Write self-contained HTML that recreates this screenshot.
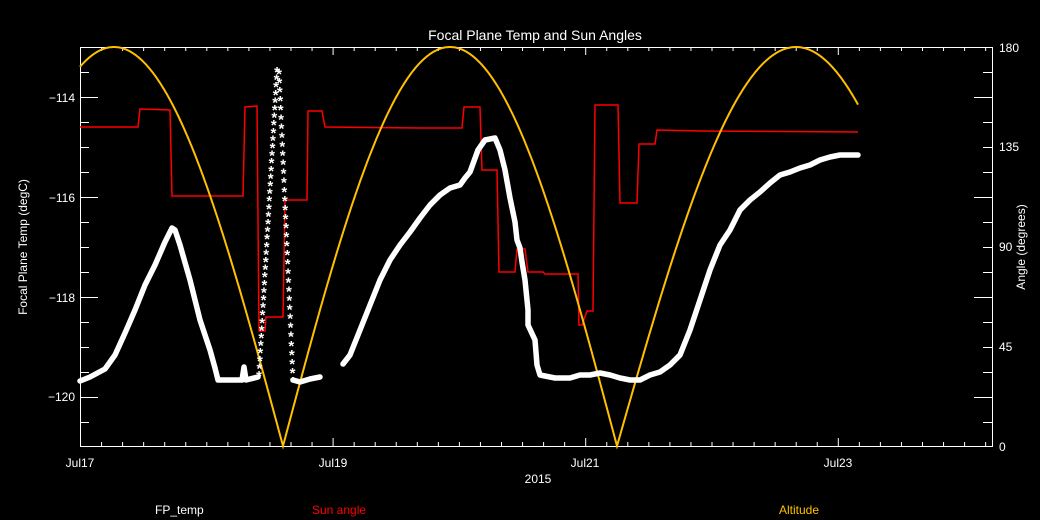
<!DOCTYPE html>
<html><head><meta charset="utf-8"><style>
html,body{margin:0;padding:0;background:#000;}
svg{display:block;font-family:"Liberation Sans",sans-serif;}
</style></head><body>
<svg width="1040" height="520" viewBox="0 0 1040 520" xmlns="http://www.w3.org/2000/svg">
<rect width="1040" height="520" fill="#000"/>
<g id="ax" stroke="#fff" stroke-width="1" fill="none">
<rect x="80.5" y="47.5" width="912" height="399"/>
</g>
<g id="ticks" stroke="#fff" stroke-width="1"></g>
<g fill="#fff" font-size="12">
<text x="535" y="40" text-anchor="middle" font-size="14">Focal Plane Temp and Sun Angles</text>
<text x="75" y="102" text-anchor="end">−114</text>
<text x="75" y="202" text-anchor="end">−116</text>
<text x="75" y="302" text-anchor="end">−118</text>
<text x="75" y="401" text-anchor="end">−120</text>
<text x="999" y="52">180</text>
<text x="999" y="151">135</text>
<text x="999" y="251">90</text>
<text x="999" y="351">45</text>
<text x="999" y="451">0</text>
<text x="80" y="467" text-anchor="middle">Jul17</text>
<text x="333" y="467" text-anchor="middle">Jul19</text>
<text x="585" y="467" text-anchor="middle">Jul21</text>
<text x="838" y="467" text-anchor="middle">Jul23</text>
<text x="538" y="483" text-anchor="middle">2015</text>
<text transform="translate(27,247) rotate(-90)" text-anchor="middle">Focal Plane Temp (degC)</text>
<text transform="translate(1025,247) rotate(-90)" text-anchor="middle">Angle (degrees)</text>
<text x="155" y="514">FP_temp</text>
<text x="312" y="514" fill="#ff0000">Sun angle</text>
<text x="779" y="514" fill="#ffc000">Altitude</text>
</g>
<path fill="none" stroke="#ff0000" stroke-width="1.5" d="M80,127 L138,127 L140,109 L170,110 L172,196 L243,196 L245,107 L257,106 L259,331 L265,331 L266,317 L283,317 L285,200 L307,200 L308,111 L322,111 L325,127 L418,128 L462,128 L464,107 L480,107 L482,170 L497,170 L499,272 L515,272 L517,249 L525,249 L528,272 L543,272 L545,274 L578,274 L579,325 L582,325 L587,311 L593,311 L595,105 L618,105 L620,203 L637,203 L639,144 L655,144 L657,130 L700,131 L858,132"/>
<path id="alt" fill="none" stroke="#ffc000" stroke-width="2"/>
<g fill="none" stroke="#fff" stroke-width="5.5" stroke-linejoin="round" stroke-linecap="round">
<path d="M80,381 L90,377 L105,369 L115,355 L125,333 L135,310 L145,285 L155,265 L165,242 L172,228 L175,230 L180,245 L190,280 L200,320 L210,350 L215,368 L218,380 L242,380 L244,367 L246,380 L258,377"/>
<path d="M293,380 L300,382 L310,379 L320,377"/>
<path d="M343,364 L350,355 L360,330 L370,305 L380,280 L390,260 L400,245 L410,232 L420,218 L430,205 L440,195 L450,188 L460,185 L465,178 L470,172 L478,150 L485,140 L495,138 L500,150 L505,170 L510,198 L515,222 L517,240 L520,248 L522,262 L525,280 L527,300 L528,310 L528,325 L535,340 L537,365 L540,375 L555,378 L570,378 L580,375 L590,375 L600,373 L610,375 L620,378 L630,380 L640,380 L650,375 L660,372 L670,365 L680,355 L690,330 L700,300 L710,270 L720,245 L730,230 L740,210 L750,200 L760,192 L770,183 L780,175 L790,172 L800,168 L810,165 L820,160 L830,157 L840,155 L858,155"/>
</g>
<g id="stars" fill="#fff" font-size="15" font-weight="bold" text-anchor="middle"></g>
</svg>
<script>
(function(){
var ns="http://www.w3.org/2000/svg";
var t=document.getElementById("ticks");
function L(x1,y1,x2,y2){var l=document.createElementNS(ns,"line");l.setAttribute("x1",x1);l.setAttribute("y1",y1);l.setAttribute("x2",x2);l.setAttribute("y2",y2);t.appendChild(l);}
for(var i=0;i<16;i++){var y=47.5+i*25;if(y>446)break;var maj=((i-2)%4===0);var len=maj?18:9;L(80,y,80+len,y);L(992,y,992-len,y);}
var dpx=126.3;
for(var h=0;h<=7.2*6;h++){var x=80.5+h*dpx/6;if(x>992)break;var maj=(h%12===0);var len=maj?8:4;L(x,446,x,446-len);L(x,47,x,47+len);}
var pts=[];
function alt(x){var arches=[[-55,283],[283,617],[617,975]];for(var k=0;k<3;k++){var a=arches[k];if(x>=a[0]&&x<=a[1]){return 180*Math.sin(Math.PI*(x-a[0])/(a[1]-a[0]));}}return 0;}
for(var x=80;x<=858;x+=1){var y=446-alt(x)/180*399;pts.push((x===80?"M":"L")+x+","+y.toFixed(1));}
document.getElementById("alt").setAttribute("d",pts.join(" "));
var s=document.getElementById("stars");
function star(x,y){var e=document.createElementNS(ns,"text");e.setAttribute("x",x);e.setAttribute("y",y+9);e.textContent="*";s.appendChild(e);}
for(var i=0;i<=40;i++){var f=i/40;star(259+f*18,372-f*304);}
for(var i=0;i<=34;i++){var f=i/34;star(279+f*14,70+f*308);}
})();
</script>
</body></html>
